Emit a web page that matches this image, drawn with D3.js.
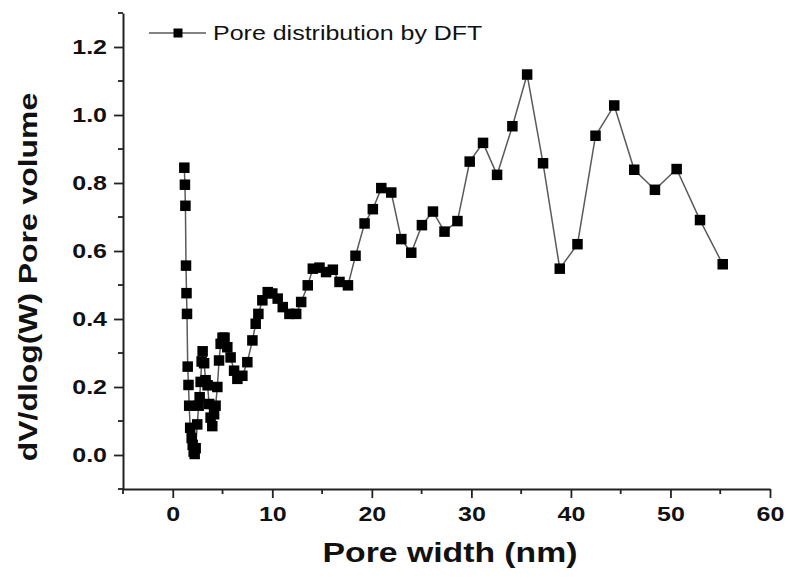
<meta charset="utf-8">
<title>Pore distribution</title>
<style>
  body { margin: 0; background: #fff; }
  svg { display: block; }
</style>
<body>
<script src="https://cdn.jsdelivr.net/npm/d3@7"></script>
<script>

var width = 788;
var height = 579;

// pore width (nm) and dV/dlog(W)
var poreWidth = [1.16, 1.22, 1.27, 1.33, 1.38, 1.43, 1.50, 1.58, 1.65, 1.75, 1.90, 2.00, 2.10, 2.20, 2.30,
  2.46, 2.60, 2.70, 2.80, 2.90, 3.00, 3.15, 3.30, 3.50, 3.65, 3.80, 3.97, 4.15, 4.30, 4.48, 4.65, 4.81,
  5.00, 5.20, 5.48, 5.81, 6.16, 6.49, 6.99, 7.49, 8.00, 8.33, 8.60, 9.00, 9.54, 10.00, 10.54, 11.05,
  11.72, 12.40, 12.90, 13.56, 14.07, 14.74, 15.40, 16.08, 16.75, 17.60, 18.36, 19.27, 20.10, 20.95,
  21.95, 22.96, 23.96, 25.03, 26.14, 27.30, 28.60, 29.83, 31.17, 32.58, 34.12, 35.60, 37.20, 38.88,
  40.66, 42.47, 44.35, 46.36, 48.44, 50.62, 52.97, 55.25];
var poreVolume = [0.845, 0.795, 0.733, 0.557, 0.476, 0.415, 0.260, 0.206, 0.145, 0.080, 0.050, 0.030, 0.010, 0.003, 0.020,
  0.090, 0.145, 0.170, 0.215, 0.275, 0.305, 0.270, 0.220, 0.205, 0.150, 0.110, 0.085, 0.120, 0.145, 0.200, 0.278, 0.327,
  0.345, 0.345, 0.317, 0.287, 0.248, 0.224, 0.233, 0.273, 0.337, 0.386, 0.415, 0.455, 0.479, 0.475, 0.460, 0.435,
  0.415, 0.415, 0.450, 0.499, 0.548, 0.551, 0.538, 0.545, 0.509, 0.499, 0.586, 0.681, 0.723, 0.785,
  0.772, 0.635, 0.595, 0.676, 0.716, 0.657, 0.688, 0.863, 0.918, 0.824, 0.967, 1.119, 0.858, 0.548,
  0.620, 0.939, 1.028, 0.839, 0.780, 0.841, 0.691, 0.561];

var xTicks = [0, 10, 20, 30, 40, 50, 60];
var xMinor = [-5, 5, 15, 25, 35, 45, 55];
var yTicks = [0.0, 0.2, 0.4, 0.6, 0.8, 1.0, 1.2];
var yMinor = [-0.1, 0.1, 0.3, 0.5, 0.7, 0.9, 1.1, 1.3];
var seriesName = 'Pore distribution by DFT';

var margin = { top: 13, right: 18, bottom: 90, left: 123 };
var stretch = 1.25;   // text in the figure is drawn wide
var font = "'Liberation Sans', Arial, sans-serif";

var svg = d3.select('body').append('svg')
  .attr('width', width)
  .attr('height', height);

var x = d3.scaleLinear().domain([-5, 60]).range([margin.left, width - margin.right]);
var y = d3.scaleLinear().domain([-0.1, 1.3]).range([height - margin.bottom, margin.top]);

// axes (left + bottom only)
var xAxis = d3.axisBottom(x).tickValues(xTicks).tickSize(9).tickPadding(9).tickSizeOuter(0)
  .tickFormat(d3.format('d'));
var yAxis = d3.axisLeft(y).tickValues(yTicks).tickSize(9).tickPadding(7).tickSizeOuter(0)
  .tickFormat(d3.format('.1f'));

var gx = svg.append('g').attr('transform', 'translate(0,' + y.range()[0] + ')').call(xAxis);
var gy = svg.append('g').attr('transform', 'translate(' + x.range()[0] + ',0)').call(yAxis);

// minor ticks
gx.selectAll('.minor').data(xMinor).enter().append('line')
  .attr('x1', function(d){ return x(d); }).attr('x2', function(d){ return x(d); })
  .attr('y1', 0).attr('y2', 5)
  .attr('stroke', '#222').attr('stroke-width', 1.8);
gy.selectAll('.minor').data(yMinor).enter().append('line')
  .attr('y1', function(d){ return y(d); }).attr('y2', function(d){ return y(d); })
  .attr('x1', 0).attr('x2', -5)
  .attr('stroke', '#222').attr('stroke-width', 1.8);

[gx, gy].forEach(function(g){
  g.select('.domain').attr('stroke', '#222').attr('stroke-width', 2);
  g.selectAll('.tick line').attr('stroke', '#222').attr('stroke-width', 1.8);
  g.selectAll('.tick text')
    .attr('fill', '#111')
    .attr('transform', 'scale(' + stretch + ',1)')
    .style('font-family', font)
    .style('font-weight', 'bold')
    .style('font-size', '20px');
});
gy.selectAll('.tick text').attr('x', -16 / stretch);

// axis titles
svg.append('text')
  .attr('transform', 'translate(450,562) scale(' + stretch + ',1)')
  .attr('text-anchor', 'middle')
  .style('font-family', font).style('font-weight', 'bold').style('font-size', '27px')
  .attr('fill', '#111')
  .text('Pore width (nm)');

svg.append('text')
  .attr('transform', 'translate(37,277) rotate(-90) scale(' + stretch + ',1)')
  .attr('text-anchor', 'middle')
  .style('font-family', font).style('font-weight', 'bold').style('font-size', '25.5px')
  .attr('fill', '#111')
  .text('dV/dlog(W) Pore volume');

// series
var pts = poreWidth.map(function(d, i){ return [d, poreVolume[i]]; });

var line = d3.line().x(function(d){ return x(d[0]); }).y(function(d){ return y(d[1]); });

svg.append('path')
  .datum(pts)
  .attr('d', line)
  .attr('fill', 'none')
  .attr('stroke', '#5a5a5a')
  .attr('stroke-width', 1.5);

var ms = 10.5;
svg.append('g').selectAll('rect')
  .data(pts)
  .enter().append('rect')
  .attr('x', function(d){ return x(d[0]) - ms / 2; })
  .attr('y', function(d){ return y(d[1]) - ms / 2; })
  .attr('width', ms).attr('height', ms)
  .attr('fill', '#000');

// legend
var lg = svg.append('g').attr('transform', 'translate(149,33)');
lg.append('line').attr('x1', 0).attr('x2', 57).attr('y1', 0).attr('y2', 0)
  .attr('stroke', '#5a5a5a').attr('stroke-width', 1.5);
lg.append('rect').attr('x', 29 - 4.5).attr('y', -4.5).attr('width', 9).attr('height', 9).attr('fill', '#000');
lg.append('text')
  .attr('transform', 'translate(64,7) scale(' + stretch + ',1)')
  .style('font-family', font).style('font-size', '20px')
  .attr('fill', '#111')
  .text(seriesName);

</script>
</body>
